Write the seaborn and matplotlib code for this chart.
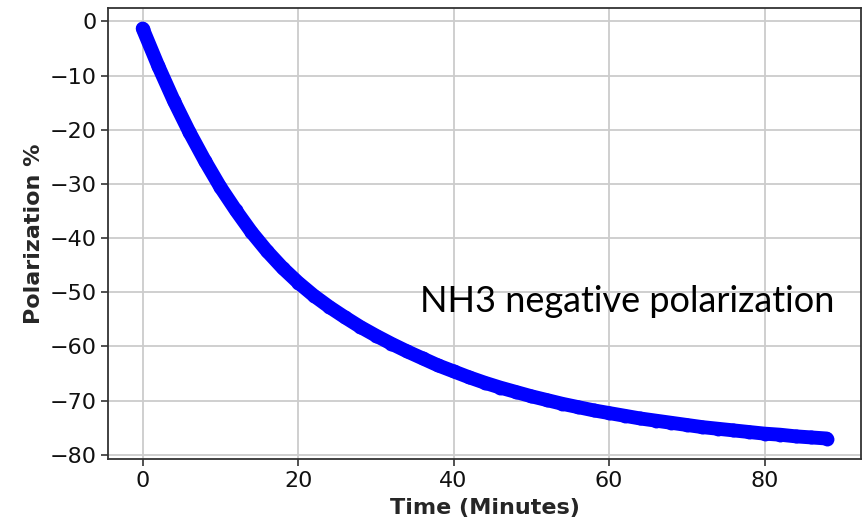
import matplotlib
matplotlib.use("Agg")
import matplotlib.pyplot as plt
import seaborn as sns
import pandas as pd

# NH3 target polarization build-up (negative direction), sampled every 2 minutes
time_min = [0, 2, 4, 6, 8, 10, 12, 14, 16, 18, 20, 22, 24, 26, 28, 30,
            32, 34, 36, 38, 40, 42, 44, 46, 48, 50, 52, 54, 56, 58, 60,
            62, 64, 66, 68, 70, 72, 74, 76, 78, 80, 82, 84, 86, 88]
polarization = [-1.3, -8.2, -14.6, -20.4, -25.7, -30.6, -34.9, -38.9, -42.4,
                -45.5, -48.2, -50.6, -52.7, -54.6, -56.4, -58.0, -59.5, -60.9,
                -62.2, -63.5, -64.6, -65.7, -66.7, -67.6, -68.4, -69.2, -69.9,
                -70.6, -71.2, -71.8, -72.3, -72.8, -73.3, -73.7, -74.1, -74.5,
                -74.9, -75.2, -75.5, -75.8, -76.1, -76.3, -76.6, -76.8, -77.0]
x_ticks = [0, 20, 40, 60, 80]
y_ticks = [0, -10, -20, -30, -40, -50, -60, -70, -80]

df = pd.DataFrame({"Time (Minutes)": time_min, "Polarization %": polarization})

sns.set_theme(style="ticks")
plt.rcParams["font.family"] = ["DejaVu Sans"]

fig = plt.figure(figsize=(8.67, 5.2), dpi=100)
ax = fig.add_axes([0.1251, 0.1173, 0.993 - 0.1251, 0.9846 - 0.1173])

sns.lineplot(data=df, x="Time (Minutes)", y="Polarization %", ax=ax,
             color="#0000ff", linewidth=10, marker="o", markersize=10,
             markeredgewidth=0, solid_capstyle="round", solid_joinstyle="round")

ax.grid(True, color="#cccccc", linewidth=1.3)
ax.set_axisbelow(True)
ax.set_xticks(x_ticks)
ax.set_yticks(y_ticks)
ax.tick_params(axis="both", labelsize=16, length=5, width=1.2, color="#333333",
               labelcolor="#111111")
for s in ax.spines.values():
    s.set_color("#333333")
    s.set_linewidth(1.3)

ax.set_xlabel("Time (Minutes)", fontsize=16, fontweight="bold", labelpad=5)
ax.set_ylabel("Polarization %", fontsize=16, fontweight="bold", labelpad=4)

ax.text(35.7, -53.6, "NH3 negative polarization", fontsize=26,
        family=["Lato", "DejaVu Sans"], color="black", ha="left", va="baseline")

fig.savefig("out.png", dpi=100)
